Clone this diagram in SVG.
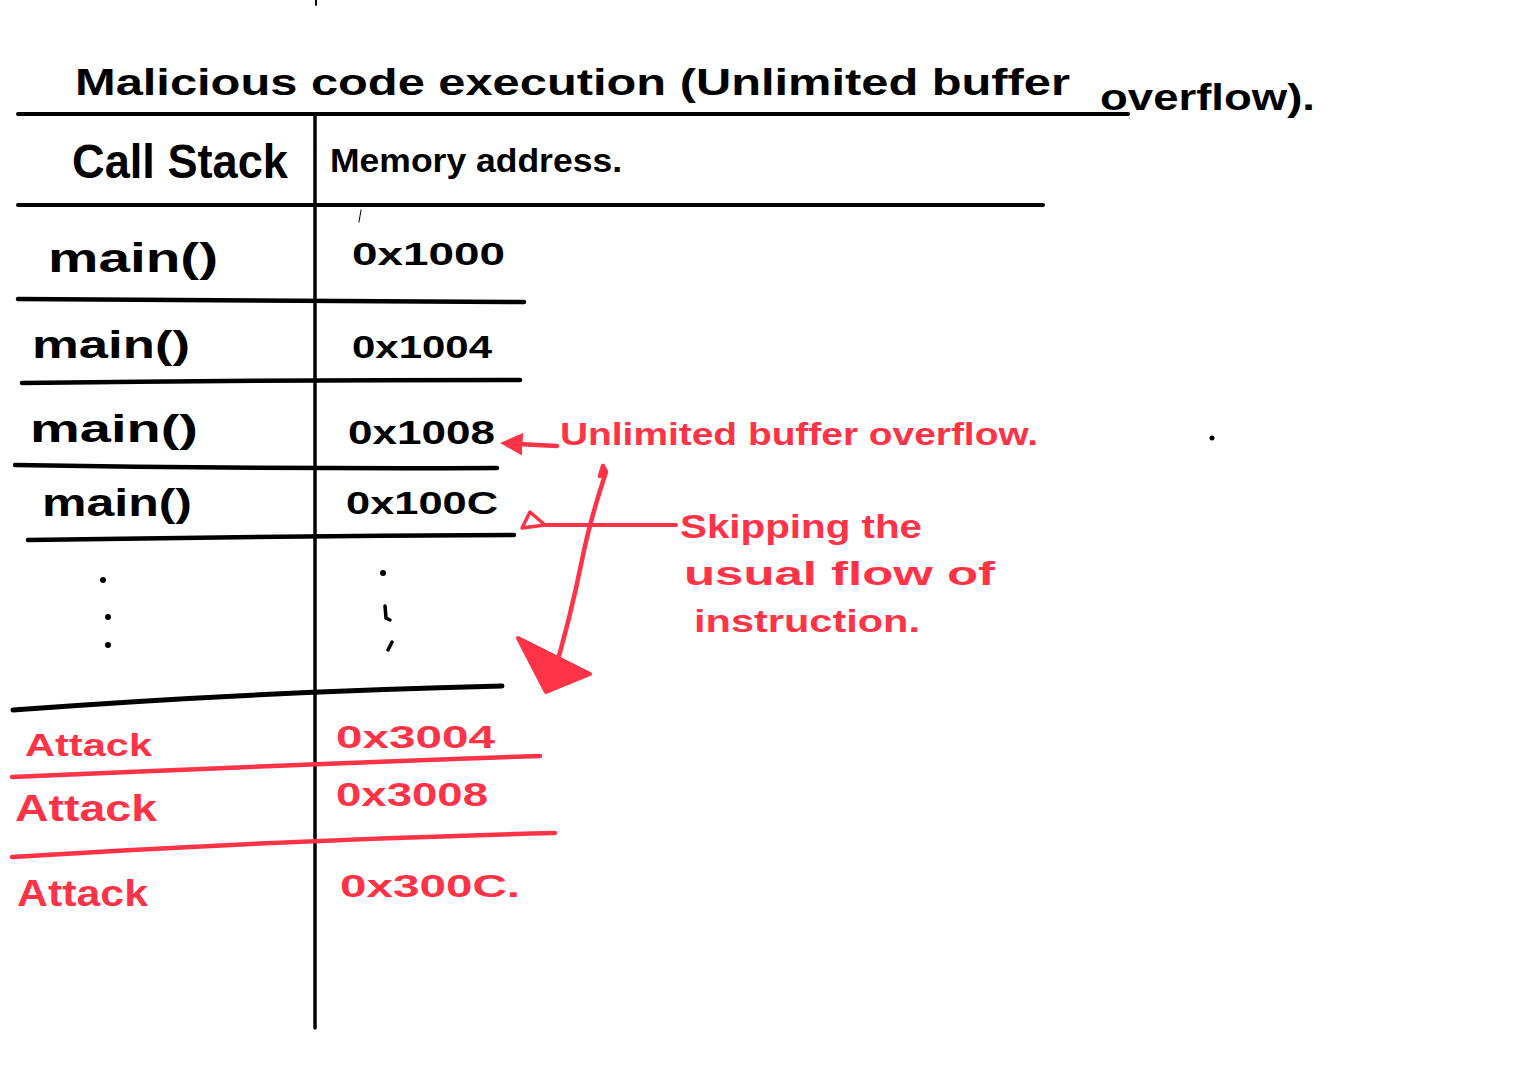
<svg xmlns="http://www.w3.org/2000/svg" width="1536" height="1076" viewBox="0 0 1536 1076">
<style>
.k{font-family:"Liberation Sans","DejaVu Sans",sans-serif;fill:#000;font-weight:bold}
.r{font-family:"Liberation Sans","DejaVu Sans",sans-serif;fill:#ff3347;font-weight:bold}
.bl{stroke:#000;fill:none;stroke-linecap:round}
.rl{stroke:#ff3347;fill:none;stroke-linecap:round;stroke-linejoin:round}
</style>
<defs>
<marker id="ah" viewBox="0 0 10 10" refX="2" refY="5" markerWidth="5" markerHeight="5" orient="auto-start-reverse">
<path d="M0,0 L10,5 L0,10 z" fill="#ff3347"/>
</marker>
</defs>
<rect width="1536" height="1076" fill="#fff"/>
<g id="title">
<text class="k" x="75" y="95" font-size="36" textLength="995" lengthAdjust="spacingAndGlyphs">Malicious code execution (Unlimited buffer</text>
<text class="k" x="1100" y="110" font-size="36" textLength="215" lengthAdjust="spacingAndGlyphs">overflow).</text>
</g>
<g id="grid">
<line class="bl" x1="18" y1="114" x2="1128" y2="114" stroke-width="4"/>
<line class="bl" x1="315" y1="114" x2="315" y2="1028" stroke-width="3.5"/>
<line class="bl" x1="316" y1="0" x2="316" y2="5" stroke-width="2"/>
<line class="bl" x1="18" y1="205" x2="1043" y2="205" stroke-width="4"/>
<line class="bl" x1="361" y1="210" x2="359" y2="222" stroke-width="1" stroke="#888"/>
<path class="bl" d="M18,299 Q270,300 524,302" stroke-width="4.5"/>
<path class="bl" d="M22,383 Q270,380 520,380" stroke-width="4.5"/>
<path class="bl" d="M15,465 Q260,469 497,468" stroke-width="4.5"/>
<path class="bl" d="M28,540 Q270,536 514,535" stroke-width="4.5"/>
<path class="bl" d="M13,710 Q250,692 502,686" stroke-width="5"/>
</g>
<g id="header">
<text class="k" x="72" y="178" font-size="48" textLength="216" lengthAdjust="spacingAndGlyphs">Call Stack</text>
<text class="k" x="330" y="172" font-size="34" textLength="292" lengthAdjust="spacingAndGlyphs">Memory address.</text>
</g>
<g id="row1">
<text class="k" x="48" y="272" font-size="40" textLength="170" lengthAdjust="spacingAndGlyphs">main()</text>
<text class="k" x="352" y="265" font-size="32" textLength="153" lengthAdjust="spacingAndGlyphs">0x1000</text>
</g>
<g id="row2">
<text class="k" x="32" y="358" font-size="38" textLength="158" lengthAdjust="spacingAndGlyphs">main()</text>
<text class="k" x="352" y="358" font-size="32" textLength="140" lengthAdjust="spacingAndGlyphs">0x1004</text>
</g>
<g id="row3">
<text class="k" x="30" y="442" font-size="38" textLength="168" lengthAdjust="spacingAndGlyphs">main()</text>
<text class="k" x="348" y="444" font-size="34" textLength="147" lengthAdjust="spacingAndGlyphs">0x1008</text>
</g>
<g id="row4">
<text class="k" x="42" y="516" font-size="38" textLength="150" lengthAdjust="spacingAndGlyphs">main()</text>
<text class="k" x="346" y="514" font-size="32" textLength="152" lengthAdjust="spacingAndGlyphs">0x100C</text>
</g>
<g id="dots" fill="#000">
<circle cx="103" cy="580" r="3"/>
<circle cx="108" cy="617" r="3"/>
<circle cx="108" cy="645" r="3"/>
<circle cx="383" cy="573" r="3"/>
<path class="bl" d="M385,606 L386,618 L390,620" stroke-width="3.5"/>
<path class="bl" d="M392,642 L388,650" stroke-width="3.5"/>
<circle cx="1212" cy="438" r="2.5"/>
</g>
<g id="attack-rows">
<path class="rl" d="M12,777 Q280,765 540,756" stroke-width="4.5"/>
<path class="rl" d="M12,857 Q280,840 555,833" stroke-width="4.5"/>
<text class="r" x="25" y="756" font-size="32" textLength="127" lengthAdjust="spacingAndGlyphs">Attack</text>
<text class="r" x="336" y="748" font-size="32" textLength="159" lengthAdjust="spacingAndGlyphs">0x3004</text>
<text class="r" x="15" y="821" font-size="36" textLength="142" lengthAdjust="spacingAndGlyphs">Attack</text>
<text class="r" x="336" y="806" font-size="34" textLength="152" lengthAdjust="spacingAndGlyphs">0x3008</text>
<text class="r" x="17" y="906" font-size="36" textLength="131" lengthAdjust="spacingAndGlyphs">Attack</text>
<text class="r" x="340" y="897" font-size="32" textLength="180" lengthAdjust="spacingAndGlyphs">0x300C.</text>
</g>
<g id="connectors">
<path class="rl" d="M557,446 L518,444" stroke-width="4.5" marker-end="url(#ah)"/>
<path class="rl" d="M676,525 L545,525" stroke-width="4"/>
<path class="rl" d="M545,525 L530,512 L522,528 L545,525" stroke-width="3.5"/>
<path class="rl" d="M600,476 L603,466 L606,472 Q590,520 582,560 Q570,620 552,680" stroke-width="4.5"/>
<path d="M518,638 L590,674 L546,692 Z" fill="#ff3347" stroke="#ff3347" stroke-width="4" stroke-linejoin="round"/>
</g>
<g id="annotations">
<text class="r" x="560" y="445" font-size="32" textLength="478" lengthAdjust="spacingAndGlyphs">Unlimited buffer overflow.</text>
<text class="r" x="680" y="538" font-size="34" textLength="242" lengthAdjust="spacingAndGlyphs">Skipping the</text>
<text class="r" x="684" y="585" font-size="34" textLength="311" lengthAdjust="spacingAndGlyphs">usual flow of</text>
<text class="r" x="694" y="632" font-size="32" textLength="226" lengthAdjust="spacingAndGlyphs">instruction.</text>
</g>
</svg>
